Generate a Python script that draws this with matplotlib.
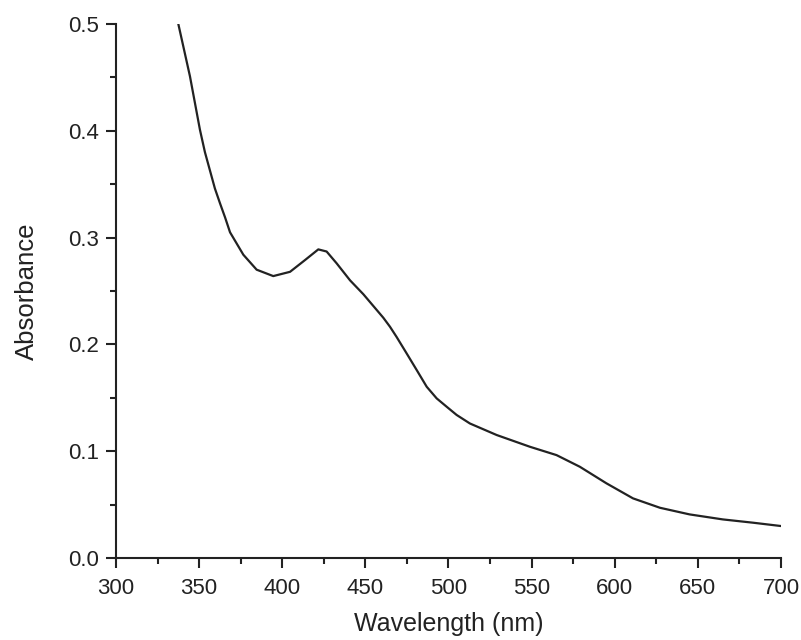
import matplotlib.pyplot as plt
from matplotlib.ticker import MultipleLocator

plt.rcParams['font.family'] = ['Liberation Sans', 'DejaVu Sans']

# absorption spectrum
wavelength = [337.5, 340.5, 344.5, 347.5, 350.5, 353.5, 356.5, 359.5, 362.6,
              365.6, 368.6, 376.6, 384.6, 394.6, 404.7, 413.7, 421.7, 426.7,
              432.7, 440.8, 448.8, 454.8, 460.8, 464.8, 468.8, 474.8, 480.9,
              486.9, 492.9, 498.9, 504.9, 512.9, 529.0, 549.0, 565.0, 579.0,
              595.0, 611.0, 627.2, 645.0, 665.0, 683.3, 700.0]
absorbance = [0.500, 0.479, 0.451, 0.426, 0.401, 0.380, 0.363, 0.346, 0.332,
              0.319, 0.305, 0.284, 0.270, 0.264, 0.268, 0.279, 0.289, 0.287,
              0.276, 0.260, 0.247, 0.236, 0.225, 0.2166, 0.207, 0.1917, 0.176,
              0.1604, 0.1495, 0.1417, 0.134, 0.126, 0.1152, 0.1042, 0.0964, 0.0855,
              0.070, 0.0559, 0.0471, 0.0409, 0.0362, 0.0331, 0.030]

ink = '#222222'

fig = plt.figure(figsize=(8.01, 6.4), dpi=100)
ax = fig.add_axes([0.1448, 0.128, 0.8302, 0.8345])

ax.plot(wavelength, absorbance, color=ink, linewidth=1.6,
        solid_joinstyle='round', solid_capstyle='round')

ax.set_xlim(300, 700)
ax.set_ylim(0, 0.5)
ax.xaxis.set_major_locator(MultipleLocator(50))
ax.xaxis.set_minor_locator(MultipleLocator(25))
ax.yaxis.set_major_locator(MultipleLocator(0.1))
ax.yaxis.set_minor_locator(MultipleLocator(0.05))

for side in ['top', 'right']:
    ax.spines[side].set_visible(False)
for side in ['left', 'bottom']:
    ax.spines[side].set_linewidth(1.5)
    ax.spines[side].set_color(ink)

ax.tick_params(which='major', direction='out', length=7, width=1.5, color=ink,
               labelsize=16, labelcolor=ink)
ax.tick_params(which='minor', direction='out', length=4, width=1.5, color=ink)
ax.tick_params(axis='x', which='major', pad=7)
ax.tick_params(axis='y', which='major', pad=5)

ax.set_xlabel('Wavelength (nm)', fontsize=18, color=ink, labelpad=10)
ax.set_ylabel('Absorbance', fontsize=18.5, color=ink, labelpad=21)

plt.savefig('out.png', dpi=100)
